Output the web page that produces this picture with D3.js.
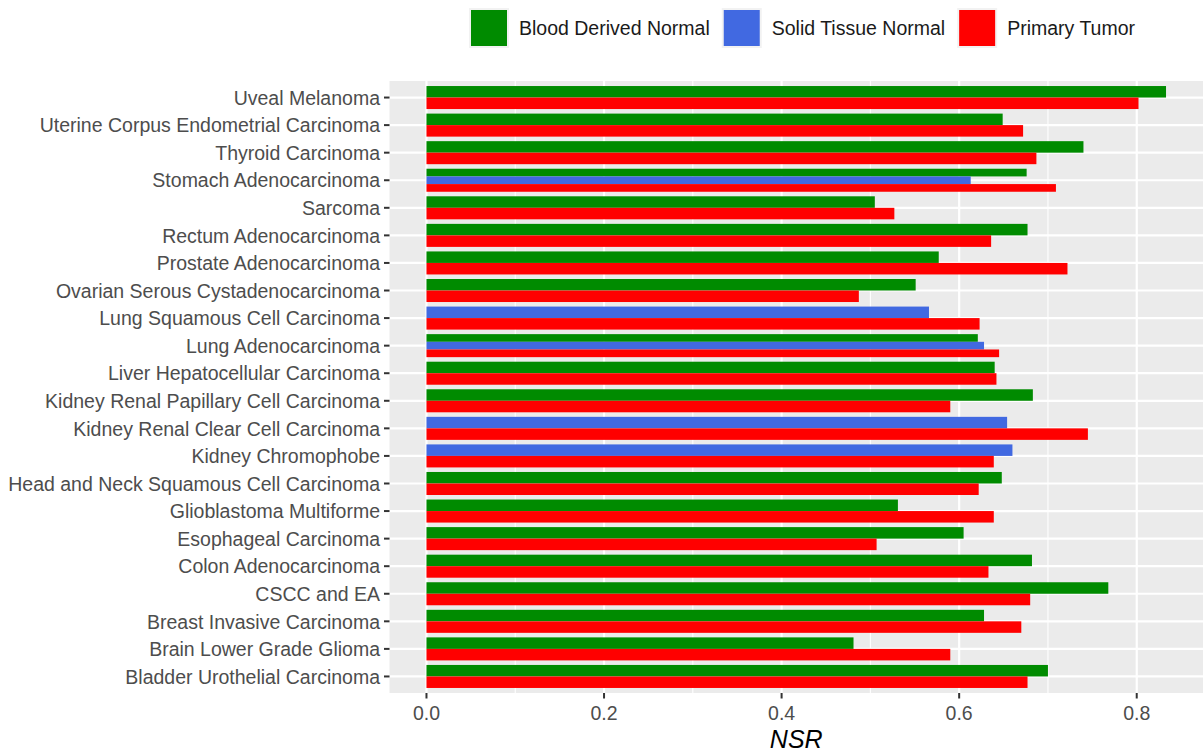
<!DOCTYPE html>
<html>
<head>
<meta charset="utf-8">
<script src="https://cdn.jsdelivr.net/npm/d3@7"></script>
<style>
  body { margin: 0; background: #fff; }
  text { font-family: "Liberation Sans", Arial, Helvetica, sans-serif; }
</style>
</head>
<body>
<script>
// Cancer types, top to bottom as shown
const categories = [
  "Uveal Melanoma",
  "Uterine Corpus Endometrial Carcinoma",
  "Thyroid Carcinoma",
  "Stomach Adenocarcinoma",
  "Sarcoma",
  "Rectum Adenocarcinoma",
  "Prostate Adenocarcinoma",
  "Ovarian Serous Cystadenocarcinoma",
  "Lung Squamous Cell Carcinoma",
  "Lung Adenocarcinoma",
  "Liver Hepatocellular Carcinoma",
  "Kidney Renal Papillary Cell Carcinoma",
  "Kidney Renal Clear Cell Carcinoma",
  "Kidney Chromophobe",
  "Head and Neck Squamous Cell Carcinoma",
  "Glioblastoma Multiforme",
  "Esophageal Carcinoma",
  "Colon Adenocarcinoma",
  "CSCC and EA",
  "Breast Invasive Carcinoma",
  "Brain Lower Grade Glioma",
  "Bladder Urothelial Carcinoma"
];

// NSR per sample type (null = no bar)
const bloodDerivedNormal = [0.833, 0.649, 0.740, 0.676, 0.505, 0.677, 0.577, 0.551, null, 0.621, 0.640,
  0.683, null, null, 0.648, 0.531, 0.605, 0.682, 0.768, 0.628, 0.481, 0.700];
const solidTissueNormal = [null, null, null, 0.613, null, null, null, null, 0.566, 0.628, null,
  null, 0.654, 0.660, null, null, null, null, null, null, null, null];
const primaryTumor = [0.802, 0.672, 0.687, 0.709, 0.527, 0.636, 0.722, 0.487, 0.623, 0.645, 0.642,
  0.590, 0.745, 0.639, 0.622, 0.639, 0.507, 0.633, 0.680, 0.670, 0.590, 0.677];

const seriesNames = ["Blood Derived Normal", "Solid Tissue Normal", "Primary Tumor"];
const seriesColors = ["#008B00", "#4169E1", "#FF0000"];
const xTicks = [0, 0.2, 0.4, 0.6, 0.8];
const xMinor = [0.1, 0.3, 0.5, 0.7];

const width = 1204, height = 755;
const panel = { left: 389.5, right: 1203, top: 81, bottom: 693 };
const fontSize = "19.5px";

const svg = d3.select("body").append("svg")
  .attr("width", width)
  .attr("height", height);

const seriesValues = [bloodDerivedNormal, solidTissueNormal, primaryTumor];
const maxVal = d3.max(seriesValues.flat());
const pad = maxVal * 0.05;

const x = d3.scaleLinear()
  .domain([-pad, maxVal + pad])
  .range([panel.left, panel.right]);

const y = d3.scalePoint()
  .domain(categories)
  .range([panel.top, panel.bottom])
  .padding(0.6);

const groupWidth = y.step() * 0.835;

// panel background
svg.append("rect")
  .attr("x", panel.left).attr("y", panel.top)
  .attr("width", panel.right - panel.left)
  .attr("height", panel.bottom - panel.top)
  .attr("fill", "#EBEBEB");

// minor grid
svg.selectAll(".minor").data(xMinor).enter().append("line")
  .attr("x1", d => x(d)).attr("x2", d => x(d))
  .attr("y1", panel.top).attr("y2", panel.bottom)
  .attr("stroke", "#fff").attr("stroke-width", 1.1);

// major grid
svg.selectAll(".majorx").data(xTicks).enter().append("line")
  .attr("x1", d => x(d)).attr("x2", d => x(d))
  .attr("y1", panel.top).attr("y2", panel.bottom)
  .attr("stroke", "#fff").attr("stroke-width", 2.2);

svg.selectAll(".majory").data(categories).enter().append("line")
  .attr("x1", panel.left).attr("x2", panel.right)
  .attr("y1", d => y(d)).attr("y2", d => y(d))
  .attr("stroke", "#fff").attr("stroke-width", 2.2);

// bars: dodge within each category among the series present
categories.forEach((cat, i) => {
  const present = [];
  seriesValues.forEach((vals, s) => {
    if (vals[i] != null) present.push({ s: s, v: vals[i] });
  });
  const h = groupWidth / present.length;
  const top = y(cat) - groupWidth / 2;
  present.forEach((p, j) => {
    svg.append("rect")
      .attr("x", x(0))
      .attr("y", top + j * h)
      .attr("width", x(p.v) - x(0))
      .attr("height", h)
      .attr("fill", seriesColors[p.s]);
  });
});

// y axis
svg.selectAll(".ytick").data(categories).enter().append("line")
  .attr("x1", panel.left - 5.5).attr("x2", panel.left)
  .attr("y1", d => y(d)).attr("y2", d => y(d))
  .attr("stroke", "#333").attr("stroke-width", 2);

svg.selectAll(".ylab").data(categories).enter().append("text")
  .attr("x", panel.left - 9.5)
  .attr("y", d => y(d))
  .attr("dy", "0.37em")
  .attr("text-anchor", "end")
  .attr("font-size", fontSize)
  .attr("fill", "#4D4D4D")
  .text(d => d);

// x axis
svg.selectAll(".xtick").data(xTicks).enter().append("line")
  .attr("x1", d => x(d)).attr("x2", d => x(d))
  .attr("y1", panel.bottom).attr("y2", panel.bottom + 5.5)
  .attr("stroke", "#333").attr("stroke-width", 2);

svg.selectAll(".xlab").data(xTicks).enter().append("text")
  .attr("x", d => x(d))
  .attr("y", 720)
  .attr("text-anchor", "middle")
  .attr("font-size", fontSize)
  .attr("fill", "#4D4D4D")
  .text(d => d3.format(".1f")(d));

svg.append("text")
  .attr("x", (panel.left + panel.right) / 2)
  .attr("y", 748)
  .attr("text-anchor", "middle")
  .attr("font-size", "25px")
  .attr("font-style", "italic")
  .attr("fill", "#000")
  .text("NSR");

// legend on top
const legend = svg.append("g");
let lx = 471;
seriesNames.forEach((name, s) => {
  legend.append("rect")
    .attr("x", lx - 2).attr("y", 8)
    .attr("width", 40).attr("height", 40)
    .attr("fill", "#F2F2F2");
  legend.append("rect")
    .attr("x", lx).attr("y", 10)
    .attr("width", 36).attr("height", 36)
    .attr("fill", seriesColors[s]);
  const t = legend.append("text")
    .attr("x", lx + 48)
    .attr("y", 28)
    .attr("dy", "0.36em")
    .attr("font-size", fontSize)
    .attr("fill", "#1A1A1A")
    .text(name);
  lx = lx + 48 + t.node().getComputedTextLength() + 14;
});
</script>
</body>
</html>
